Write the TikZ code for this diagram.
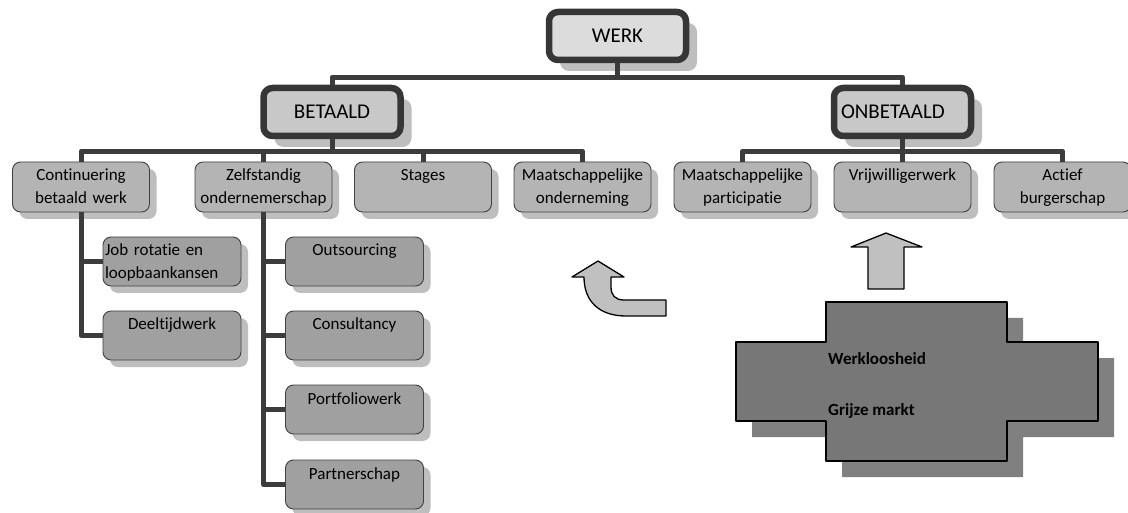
\documentclass[tikz,border=0pt]{standalone}
\usepackage{fontspec}
\setmainfont{Carlito}[Ligatures=NoCommon]
\usetikzlibrary{shadows}
\definecolor{connGray}{HTML}{3C3C3C}
\definecolor{rimGray}{HTML}{363636}
\definecolor{edgeGray}{HTML}{404040}
\definecolor{werkFill}{HTML}{DCDCDC}
\definecolor{headFill}{HTML}{C8C8C8}
\definecolor{midFill}{HTML}{B4B4B4}
\definecolor{lowFill}{HTML}{A0A0A0}
\definecolor{shadeGray}{HTML}{BEBEBE}
\definecolor{arrowFill}{HTML}{C0C0C0}
\definecolor{crossFill}{HTML}{777777}
\definecolor{crossShade}{HTML}{808080}
\tikzset{
  conn/.style={draw=connGray, line width=5pt},
  topbox/.style={draw=rimGray, line width=6.5pt, rounded corners=9pt, fill=#1,
    minimum width=137pt, minimum height=48pt, inner sep=0pt,
    font=\fontsize{21}{25}\selectfont,
    drop shadow={shadow xshift=11pt, shadow yshift=-11pt, fill=shadeGray, opacity=1}},
  midbox/.style={draw=edgeGray, line width=0.9pt, rounded corners=8pt, fill=midFill,
    text width=131pt, inner xsep=3pt, inner ysep=3pt, text height=16pt, text depth=28pt,
    align=center, font=\fontsize{17}{23}\selectfont,
    drop shadow={shadow xshift=7pt, shadow yshift=-7pt, fill=shadeGray, opacity=1}},
  lowbox/.style={midbox, fill=lowFill, text width=132pt, text depth=27pt},
  flatarrow/.style={draw=black, line width=1.3pt, fill=arrowFill, line join=round},
}
\begin{document}
\begin{tikzpicture}[x=1pt,y=-1pt,line join=round]
\useasboundingbox (0,0) rectangle (1128,513);
% top levels
\node[topbox=werkFill] (werk) at (617.5,36) {WERK};
\node[topbox=headFill] (betaald) at (332,112) {BETAALD};
\node[topbox=headFill, text width=123pt, align=left] (onbetaald) at (902.5,112) {ONBETAALD};
% betaald
\node[midbox] (cbw) at (81,187) {Continuering\\betaald werk};
\node[midbox] (zo) at (263.5,187) {Zelfstandig\\ondernemerschap};
\node[midbox] (stg) at (423,187) {Stages};
\node[midbox] (mo) at (582.5,187) {Maatschappelijke\\onderneming};
% onbetaald
\node[midbox] (mp) at (742.5,187) {Maatschappelijke\\participatie};
\node[midbox] (vw) at (902.5,187) {Vrijwilligerwerk};
\node[midbox] (ab) at (1062.5,187) {Actief\\burgerschap};
% third level
\node[lowbox, align=left, text width=134pt, inner xsep=2pt] (jr) at (172,261.5) {Job rotatie en\\loopbaankansen};
\node[lowbox] (dtw) at (172,335.5) {Deeltijdwerk};
\node[lowbox] (outs) at (354.5,261.5) {Outsourcing};
\node[lowbox] (cons) at (354.5,335.5) {Consultancy};
\node[lowbox] (port) at (354.5,409.5) {Portfoliowerk};
\node[lowbox] (partn) at (354.5,484.5) {Partnerschap};
% connectors
\draw[conn] (werk.south) -- ++(0,14) -| (betaald.north);
\draw[conn] (werk.south) -- ++(0,14) -| (onbetaald.north);
\foreach \c in {cbw,zo,stg,mo}
  \draw[conn] (betaald.south) -- ++(0,12) -| (\c.north);
\foreach \c in {mp,vw,ab}
  \draw[conn] (onbetaald.south) -- ++(0,12) -| (\c.north);
\foreach \c in {jr,dtw}
  \draw[conn] (cbw.south) |- (\c.west);
\foreach \c in {outs,cons,port,partn}
  \draw[conn] (zo.south) |- (\c.west);
% curved arrow
\draw[flatarrow] (598,261) -- (624,277) -- (611,277) -- (611,287)
  .. controls (611,295) and (615,300) .. (624,300) -- (666,300) -- (666,316) -- (626,316)
  .. controls (600,316) and (584,302) .. (584,277) -- (572,277) -- cycle;
% up arrow
\draw[flatarrow] (886,233) -- (922,247) -- (904,247) -- (904,289) -- (868,289) -- (868,247) -- (851,247) -- cycle;
% cross shape
\fill[crossShade] (842,318) -- (1023,318) -- (1023,358) -- (1114,358) -- (1114,437) -- (1023,437)
  -- (1023,477) -- (842,477) -- (842,437) -- (752,437) -- (752,358) -- (842,358) -- cycle;
\draw[draw=black, line width=1.3pt, fill=crossFill] (826,302) -- (1007,302) -- (1007,342) -- (1098,342)
  -- (1098,421) -- (1007,421) -- (1007,461) -- (826,461) -- (826,421) -- (736,421) -- (736,342)
  -- (826,342) -- cycle;
\node[anchor=base west, inner sep=0pt, font=\fontsize{17}{20}\selectfont\bfseries] (wl) at (828,364) {Werkloosheid};
\node[anchor=base west, inner sep=0pt, font=\fontsize{17}{20}\selectfont\bfseries] (gm) at (828,415) {Grijze markt};
\end{tikzpicture}
\end{document}
